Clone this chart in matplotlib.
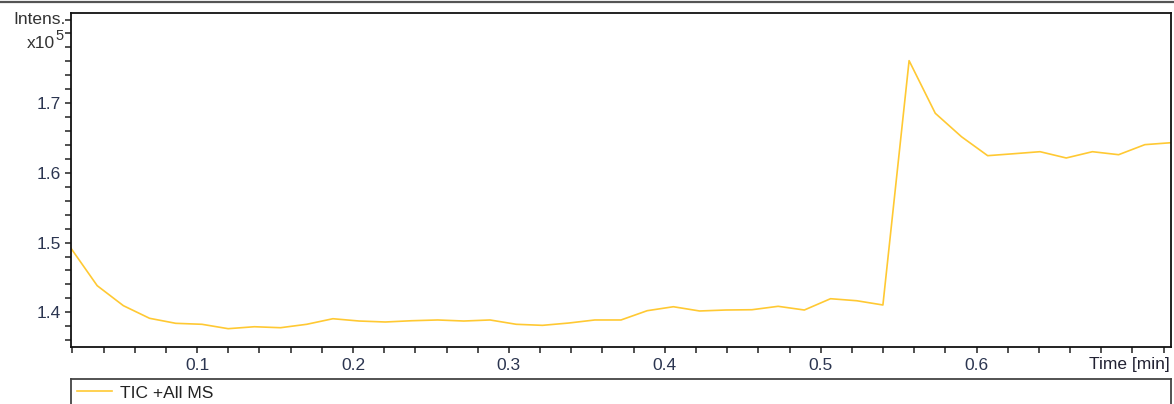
import matplotlib
matplotlib.use("Agg")
import matplotlib.pyplot as plt
from matplotlib.lines import Line2D
from matplotlib.ticker import MultipleLocator, FixedLocator, FormatStrFormatter

plt.rcParams['font.family'] = ['Liberation Sans', 'DejaVu Sans']

# retention time [min], one scan per ~1 s
time_min = [0.0191, 0.0359, 0.0527, 0.0695, 0.0863, 0.1031, 0.1199, 0.1367,
            0.1535, 0.1703, 0.1871, 0.2039, 0.2207, 0.2375, 0.2543, 0.2711,
            0.2879, 0.3047, 0.3215, 0.3383, 0.3551, 0.3719, 0.3887, 0.4055,
            0.4223, 0.4391, 0.4559, 0.4727, 0.4895, 0.5063, 0.5231, 0.5399,
            0.5567, 0.5735, 0.5903, 0.6071, 0.6239, 0.6407, 0.6575, 0.6743,
            0.6911, 0.7079, 0.7247]
# TIC intensity, x10^5
tic = [1.4918, 1.4382, 1.4095, 1.3914, 1.3842, 1.3828, 1.3765, 1.3793,
       1.3779, 1.3828, 1.3908, 1.3875, 1.3861, 1.3879, 1.3890, 1.3875,
       1.3890, 1.3828, 1.3813, 1.3846, 1.3890, 1.3890, 1.4023, 1.4080,
       1.4019, 1.4033, 1.4037, 1.4086, 1.4033, 1.4195, 1.4166, 1.4105,
       1.7610, 1.6855, 1.6519, 1.6247, 1.6275, 1.6304, 1.6214, 1.6304,
       1.6261, 1.6405, 1.6433]
trace_label = "TIC +All MS"

# labelled ticks only; the rest are plain minor marks
x_major = [0.1, 0.2, 0.3, 0.4, 0.5, 0.6]
y_major = [1.4, 1.5, 1.6, 1.7]

W, H = 1174, 404
LABEL_COL = '#2b3550'
LINE_COL = '#FFC933'


def fx(px):
    return px / W


def fy(py):
    return 1 - py / H


fig = plt.figure(figsize=(W / 100, H / 100), dpi=100)

ax = fig.add_axes([fx(71), fy(347.3), fx(1171 - 71), (347.3 - 12.7) / H])
line, = ax.plot(time_min, tic, color=LINE_COL, lw=1.2, label=trace_label)

ax.set_xlim(time_min[0], time_min[-1])
ax.set_ylim(1.3498, 1.8298)

ax.xaxis.set_major_locator(FixedLocator(x_major))
ax.xaxis.set_minor_locator(MultipleLocator(0.02))
ax.yaxis.set_major_locator(FixedLocator(y_major))
ax.yaxis.set_minor_locator(MultipleLocator(0.02))
ax.xaxis.set_major_formatter(FormatStrFormatter('%.1f'))
ax.yaxis.set_major_formatter(FormatStrFormatter('%.1f'))

ax.tick_params(which='both', direction='out', length=4, width=1.1,
               color='#222222', labelcolor=LABEL_COL, labelsize=12.5)
ax.tick_params(axis='x', which='major', pad=4)
ax.tick_params(axis='y', which='major', pad=3)

for s in ax.spines.values():
    s.set_linewidth(1.3)
    s.set_color('#111111')

# axis captions, placed like the instrument software does
fig.text(fx(66), fy(20), "Intens.", ha='right', va='center', fontsize=12.5, color='#333333')
fig.text(fx(54.5), fy(44), "x10", ha='right', va='center', fontsize=12.5, color='#333333')
fig.text(fx(55), fy(36), "5", ha='left', va='center', fontsize=10.5, color='#333333')
fig.text(fx(1170), fy(365), "Time [min]", ha='right', va='center', fontsize=12.5, color='#222233')

# frame line along the top
fig.add_artist(Line2D([0, 1], [fy(2.3), fy(2.3)], color='#555555', lw=1.6))

# legend panel below the plot, running off the bottom edge
lax = fig.add_axes([fx(71), fy(379.3) - 0.2, fx(1171 - 71), 0.2])
lax.set_xticks([])
lax.set_yticks([])
for s in lax.spines.values():
    s.set_linewidth(1.3)
    s.set_color('#444444')
lax.legend(handles=[line], labels=[trace_label], loc='upper left',
           frameon=False, fontsize=12.5, handlelength=2.0, handletextpad=0.45,
           borderaxespad=0.0, borderpad=0.35, labelcolor='#222222')

fig.savefig("out.png", dpi=100)
